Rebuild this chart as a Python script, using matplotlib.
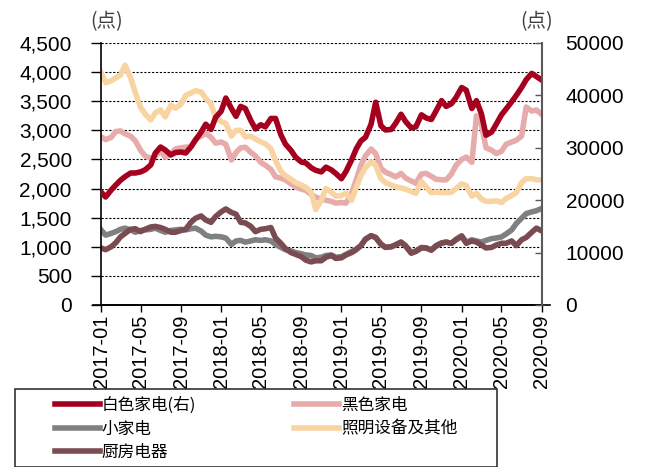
import matplotlib
matplotlib.use("Agg")
import matplotlib.pyplot as plt
import matplotlib.dates as mdates
from matplotlib.patches import Rectangle
from matplotlib.ticker import FuncFormatter, MultipleLocator
import pandas as pd

plt.rcParams['font.family'] = ['Liberation Sans', 'Noto Sans CJK SC', 'DejaVu Sans']

# half-month samples, 2017-01 .. 2020-09
dates = pd.date_range('2017-01-01', '2020-09-01', freq='SMS')

white = [21560, 20610, 21950, 22900, 23800, 24500, 25190, 25190, 25400, 25800,
         26720, 29000, 30150, 29580, 28630, 29100, 29200, 29000, 30150, 31500,
         33000, 34500, 33500, 35800, 37000, 39500, 37500, 36000, 37900, 37500,
         35200, 33600, 34400, 34000, 35600, 35600, 32500, 30700, 29500, 28200,
         27300, 27100, 26200, 25700, 25400, 26300, 25800, 25100, 24100, 25500,
         27700, 29800, 31300, 32000, 34500, 38700, 34200, 33400, 33500, 34700,
         36400, 35000, 33800, 34000, 36300, 35700, 35400, 37000, 39000, 37900,
         38400, 39600, 41500, 41000, 37500, 39000, 36500, 32400, 33000, 34500,
         36300, 37400, 38800, 40000, 41500, 43000, 44200, 43600, 42900]

black = [2890, 2840, 2880, 2980, 2990, 2940, 2900, 2820, 2660, 2560,
         2520, 2560, 2640, 2540, 2600, 2680, 2700, 2710, 2720, 2850,
         2900, 2950, 2880, 2780, 2800, 2760, 2490, 2620, 2700, 2710,
         2620, 2560, 2450, 2400, 2330, 2200, 2180, 2150, 2080, 2030,
         1990, 1970, 1900, 1850, 1820, 1800, 1780, 1750, 1760, 1750,
         1920, 2150, 2400, 2560, 2680, 2600, 2350, 2280, 2240, 2200,
         2260, 2180, 2130, 2090, 2250, 2260, 2210, 2160, 2150, 2150,
         2250, 2400, 2500, 2540, 2450, 3250, 3100, 2700, 2660, 2600,
         2640, 2760, 2800, 2830, 2900, 3400, 3330, 3350, 3270]

small = [1290, 1200, 1230, 1260, 1300, 1320, 1290, 1250, 1280, 1290,
         1300, 1320, 1280, 1250, 1280, 1290, 1300, 1290, 1310, 1320,
         1270, 1200, 1170, 1180, 1170, 1150, 1040, 1100, 1110, 1080,
         1100, 1120, 1110, 1120, 1100, 1040, 990, 950, 930, 900,
         880, 860, 850, 810, 820, 850, 860, 820, 830, 870,
         920, 960, 1020, 1130, 1190, 1160, 1050, 990, 1000, 1040,
         1080, 1020, 900, 930, 990, 980, 950, 1020, 1070, 1080,
         1060, 1130, 1190, 1080, 1120, 1100, 1080, 1110, 1140, 1150,
         1170, 1220, 1290, 1400, 1490, 1570, 1600, 1620, 1660]

lighting = [3990, 3820, 3850, 3900, 3950, 4120, 3900, 3650, 3400, 3280,
            3180, 3300, 3350, 3230, 3430, 3380, 3450, 3600, 3640, 3680,
            3660, 3550, 3450, 3220, 3150, 3120, 2900, 3000, 3000, 2890,
            2900, 2850, 2800, 2770, 2680, 2480, 2300, 2220, 2160, 2100,
            2060, 2020, 1940, 1640, 1800, 2000, 1940, 1870, 1880, 1920,
            1800, 2020, 2220, 2360, 2460, 2400, 2170, 2100, 2060, 2030,
            2010, 1990, 1950, 1920, 2120, 2030, 1930, 1940, 1930, 1930,
            1940, 2000, 2080, 2050, 1870, 1920, 1820, 1780, 1780, 1790,
            1760, 1830, 1880, 1930, 2100, 2170, 2170, 2150, 2150]

kitchen = [980, 950, 1000, 1070, 1170, 1230, 1300, 1310, 1260, 1300,
           1340, 1350, 1330, 1300, 1250, 1250, 1280, 1300, 1420, 1490,
           1530, 1460, 1420, 1520, 1600, 1650, 1590, 1560, 1420, 1410,
           1350, 1260, 1300, 1310, 1330, 1150, 1060, 970, 900, 870,
           830, 770, 740, 760, 760, 820, 850, 800, 810, 860,
           900, 950, 1020, 1130, 1190, 1160, 1040, 990, 1000, 1030,
           1080, 1010, 890, 920, 980, 980, 940, 1010, 1060, 1080,
           1060, 1120, 1180, 1060, 1100, 1080, 1030, 980, 990, 1030,
           1060, 1060, 1100, 1020, 1120, 1160, 1250, 1320, 1270]

labels = ['白色家电(右)', '黑色家电', '小家电', '照明设备及其他', '厨房电器']
colors = ['#A5001E', '#E8ABAB', '#808080', '#F8D4A2', '#7A4B50']

fig = plt.figure(figsize=(6.47, 4.67), dpi=100)
ax = fig.add_axes([101/647, 1 - 305/467, 441/647, 262/467])
ax2 = ax.twinx()

lw = 4.0
l_black, = ax.plot(dates, black, color=colors[1], lw=lw, label=labels[1])
l_light, = ax.plot(dates, lighting, color=colors[3], lw=lw, label=labels[3])
l_small, = ax.plot(dates, small, color=colors[2], lw=lw, label=labels[2])
l_kit, = ax.plot(dates, kitchen, color=colors[4], lw=lw, label=labels[4])
l_white, = ax2.plot(dates, white, color=colors[0], lw=lw, label=labels[0])

ax.set_xlim(dates[0], dates[-1])
ax.set_ylim(0, 4500)
ax2.set_ylim(0, 50000)
ax.yaxis.set_major_locator(MultipleLocator(500))
ax2.yaxis.set_major_locator(MultipleLocator(10000))
ax.yaxis.set_major_formatter(FuncFormatter(lambda v, p: f'{int(v):,}'))
ax2.yaxis.set_major_formatter(FuncFormatter(lambda v, p: f'{int(v)}'))

ax.xaxis.set_major_locator(mdates.MonthLocator(bymonth=[1, 5, 9]))
ax.xaxis.set_major_formatter(mdates.DateFormatter('%Y-%m'))
plt.setp(ax.get_xticklabels(), rotation=90)

ax.grid(axis='y', color='black', linestyle=(0, (2, 1.5)), linewidth=0.8)
ax.set_axisbelow(True)

for a in (ax, ax2):
    a.spines['top'].set_visible(False)
ax.spines['right'].set_visible(False)
ax2.spines['left'].set_visible(False)
ax2.spines['bottom'].set_visible(False)
ax2.spines['right'].set_color('#595959')
ax2.spines['right'].set_linewidth(1.5)
ax.spines['left'].set_linewidth(1.2)
ax.spines['bottom'].set_linewidth(1.2)
# bottom axis line runs a little past both sides
ax.plot([-8/441, 1 + 8/441], [0, 0], transform=ax.transAxes, color='black',
        lw=1.2, clip_on=False)

ax.tick_params(axis='y', labelsize=15, length=7, width=1, direction='out', pad=14)
ax.tick_params(axis='x', labelsize=14.5, length=5, width=1, direction='out', pad=2)
ax2.tick_params(axis='y', labelsize=15, length=5, width=1, direction='in', pad=17,
                color='#595959')

fig.text(107/647, 1 - 22/467, '(点)', fontsize=14, color='#404040',
         ha='center', va='center', family=['Noto Sans CJK SC'])
fig.text(537/647, 1 - 22/467, '(点)', fontsize=14, color='#404040',
         ha='center', va='center', family=['Noto Sans CJK SC'])

# legend box
fig.patches.append(Rectangle((15/647, 0), 482/647, 1 - 389/467,
                             transform=fig.transFigure, fill=False,
                             edgecolor='#333333', linewidth=1.2))
handles = [l_white, l_black, l_small, l_light, l_kit]
order = [0, 2, 4, 1, 3]
leg = fig.legend([handles[i] for i in order], [labels[i] for i in order],
                 loc='upper left', bbox_to_anchor=(40/647, 1 - 382/467),
                 ncol=2, frameon=False, handlelength=2.7,
                 handletextpad=0.1, columnspacing=5.9, labelspacing=0.38,
                 prop={'family': ['Noto Sans CJK SC'], 'size': 12})

fig.savefig('out.png', dpi=100)
